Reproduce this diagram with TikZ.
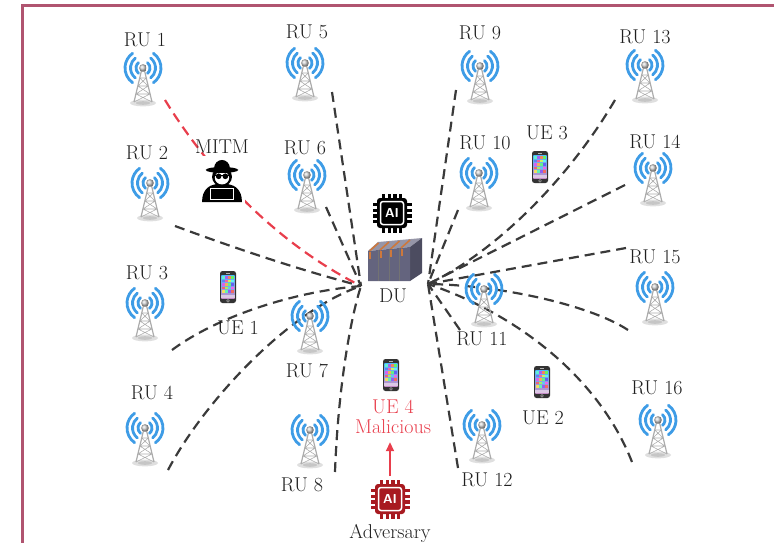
\documentclass[tikz,border=0pt]{standalone}
\usetikzlibrary{arrows.meta}
\definecolor{framec}{RGB}{176,84,112}
\definecolor{wifi}{RGB}{62,156,230}
\definecolor{linkgray}{RGB}{58,58,58}
\definecolor{alert}{RGB}{232,62,76}
\definecolor{advred}{RGB}{168,26,32}
\definecolor{rackfront}{RGB}{100,100,126}
\definecolor{racktop}{RGB}{150,150,168}
\definecolor{rackside}{RGB}{76,76,96}
\definecolor{rackorange}{RGB}{205,120,60}
\begin{document}
\begin{tikzpicture}[x=1pt,y=-1pt,
  lbl/.style={font=\fontsize{20}{24}\selectfont, text=black!88, inner sep=0pt},
  redlbl/.style={lbl, text=alert},
  link/.style={draw=linkgray, line width=2.2pt, dash pattern=on 10pt off 6pt},
  redlink/.style={link, draw=alert},
  % radio unit: lattice tower with wireless waves
  pics/rutower/.style={code={
    \fill[gray!25] (0,35) ellipse[x radius=13, y radius=3.4];
    \fill[gray!45] (0,35) ellipse[x radius=7, y radius=1.8];
    \draw[gray!65, line width=1.2pt] (-1.6,3) -- (-9,34) (1.6,3) -- (9,34);
    \draw[gray!65, line width=.6pt]
      (-3.3,10) -- (3.3,10) (-5.1,18) -- (5.1,18) (-7,26) -- (7,26)
      (-3.3,10) -- (5.1,18) (3.3,10) -- (-5.1,18)
      (-5.1,18) -- (7,26) (5.1,18) -- (-7,26)
      (-7,26) -- (9,34) (7,26) -- (-9,34);
    \shade[ball color=gray!35] (0,0) circle[radius=3.8];
    \foreach \r/\a in {7/50,12.5/52,18/55}{
      \draw[wifi, line width=2.8pt, line cap=round] (-\a:\r) arc[start angle=-\a, end angle=\a, radius=\r];
      \draw[wifi, line width=2.8pt, line cap=round] (180-\a:\r) arc[start angle=180-\a, end angle=180+\a, radius=\r];
    }
  }},
  % user equipment: smartphone
  pics/phone/.style={code={
    \fill[black!80, rounded corners=2.5pt] (-8,-16) rectangle (8,16);
    \shade[top color=cyan!60!blue!70, bottom color=violet!45] (-6.6,-12) rectangle (6.6,11.5);
    \foreach \y [count=\j] in {-9.4,-5.9,-2.4,1.1,4.6} {
      \foreach \x [count=\i] in {-4.5,-1.5,1.5,4.5} {
        \pgfmathsetmacro\h{mod(\i*0.29+\j*0.17,1)}
        \definecolor{appc}{hsb}{\h,0.6,0.95}
        \fill[appc] (\x-1.15,\y-1.15) rectangle (\x+1.15,\y+1.15);
      }
    }
    \fill[white, opacity=.5] (-6.6,7.6) rectangle (6.6,10.9);
    \draw[gray!70, line width=.5pt] (0,13.8) circle[radius=1.4];
    \draw[gray!60, line width=.6pt] (-2,-14) -- (2,-14);
  }},
  % man in the middle
  pics/hacker/.style={code={
    \fill[white] (-22,-24) rectangle (22,21);
    \fill[black] (-19,20) .. controls (-19,8) and (-12,4) .. (-6,3) -- (6,3)
       .. controls (12,4) and (19,8) .. (19,20) -- cycle;
    \fill[black] (0,-4) ellipse[x radius=9.5, y radius=9];
    \fill[white] (0,-3) ellipse[x radius=6.8, y radius=6.3];
    \fill[black] (-3.2,-4.5) circle[radius=2.7] (3.2,-4.5) circle[radius=2.7];
    \draw[black, line width=1pt] (-8,-5) -- (8,-5);
    \fill[black] (-8,-11) .. controls (-8,-23) and (8,-23) .. (8,-11) -- cycle;
    \fill[black] (0,-10.5) ellipse[x radius=15.5, y radius=2.8];
    \fill[black] (-12.5,6) rectangle (12.5,19);
    \draw[white, line width=1pt] (-11,7.5) rectangle (11,17.5);
  }},
  % AI processor chip
  pics/aichip/.style={code={
    \foreach \p in {-8.4,-2.8,2.8,8.4}{
      \fill[#1] (\p-1.7,-19.5) rectangle (\p+1.7,19.5);
      \fill[#1] (-19.5,\p-1.7) rectangle (19.5,\p+1.7);
    }
    \fill[#1, rounded corners=3pt] (-15,-15) rectangle (15,15);
    \draw[white, line width=1.5pt, rounded corners=2.5pt] (-11.5,-11.5) rectangle (11.5,11.5);
    \node[text=white, inner sep=0pt, font=\sffamily\bfseries\fontsize{13}{13}\selectfont] (-txt) {AI};
  }},
  % distributed unit: server rack
  pics/rack/.style={code={
    \fill[racktop] (-27,-8) -- (-17,-17) -- (27,-21) -- (15,-12) -- cycle;
    \fill[rackside] (15,-12) -- (27,-21) -- (27,14) -- (15,22) -- cycle;
    \fill[rackfront] (-27,-8) -- (15,-12) -- (15,22) -- (-27,22) -- cycle;
    \foreach \x in {-16.5,-6,4.5}{
      \draw[black!55, line width=.8pt] (\x,{-8-(\x+27)*4/42}) -- (\x,22);
    }
    \foreach \x in {-27,-16.5,-6,4.5}{
      \draw[rackorange, line width=1.6pt] (\x+1.5,{-8-(\x+27)*4/42}) -- ++(9,-8);
      \fill[rackorange] (\x+1,{-8-(\x+27)*4/42+0.8}) rectangle ++(2.4,7);
    }
  }}
]
\useasboundingbox (0,0) rectangle (774,543);

% frame
\draw[framec, line width=2.7pt] (774,5.3) -- (22.5,5.3) -- (22.5,543);

% link end points
\coordinate (duL) at (361,286);
\coordinate (duR) at (428,284);
\coordinate (e1) at (165,100);
\coordinate (e2) at (175,226);
\coordinate (e3) at (172,350);
\coordinate (e4) at (168,470);
\coordinate (e5) at (332,92);
\coordinate (e6) at (326,207);
\coordinate (e8) at (335,472);
\coordinate (e9) at (456,90);
\coordinate (e10) at (458,210);
\coordinate (e11) at (460,330);
\coordinate (e12) at (458,468);
\coordinate (e13) at (615,100);
\coordinate (e14) at (625,185);
\coordinate (e14b) at (626,248);
\coordinate (e15) at (628,330);
\coordinate (e16) at (632,462);

% fronthaul links
\draw[redlink] (e1) .. controls (205,165) and (270,240) .. (duL);
\draw[link] (e2) .. controls (240,250) and (300,270) .. (duL);
\draw[link] (e3) .. controls (215,318) and (290,292) .. (duL);
\draw[link] (e4) .. controls (205,400) and (290,310) .. (duL);
\draw[link] (e5) -- (duL);
\draw[link] (e6) -- (duL);
\draw[link] (e8) .. controls (338,390) and (350,320) .. (duL);
\draw[link] (e9) -- (duR);
\draw[link] (e10) -- (duR);
\draw[link] (e11) -- (duR);
\draw[link] (e12) -- (duR);
\draw[link] (e13) .. controls (565,185) and (490,255) .. (duR);
\draw[link] (e14) -- (duR);
\draw[link] (e14b) -- (duR);
\draw[link] (e15) .. controls (590,305) and (500,285) .. (duR);
\draw[link] (e16) .. controls (600,380) and (520,315) .. (duR);

% radio units
\pic at (143,68) {rutower};  \node[lbl] (ru1) at (145,40) {RU 1};
\pic at (150,183) {rutower}; \node[lbl] (ru2) at (147,153) {RU 2};
\pic at (145,303) {rutower}; \node[lbl] (ru3) at (147,273) {RU 3};
\pic at (145,428) {rutower}; \node[lbl] (ru4) at (152,393) {RU 4};
\pic at (305,63) {rutower};  \node[lbl] (ru5) at (307,32) {RU 5};
\pic at (307,175) {rutower}; \node[lbl] (ru6) at (305,148) {RU 6};
\pic at (310,316) {rutower}; \node[lbl] (ru7) at (307,371) {RU 7};
\pic at (310,430) {rutower}; \node[lbl] (ru8) at (302,485) {RU 8};
\pic at (480,66) {rutower};  \node[lbl] (ru9) at (480,33) {RU 9};
\pic at (479,173) {rutower}; \node[lbl] (ru10) at (485,143) {RU 10};
\pic at (484,289) {rutower}; \node[lbl] (ru11) at (482,339) {RU 11};
\pic at (482,425) {rutower}; \node[lbl] (ru12) at (487,480) {RU 12};
\pic at (645,65) {rutower};  \node[lbl] (ru13) at (645,37) {RU 13};
\pic at (653,168) {rutower}; \node[lbl] (ru14) at (655,142) {RU 14};
\pic at (655,287) {rutower}; \node[lbl] (ru15) at (655,257) {RU 15};
\pic at (658,420) {rutower}; \node[lbl] (ru16) at (657,388) {RU 16};

% user equipment
\pic at (228,287) {phone}; \node[lbl] (ue1) at (238,328) {UE 1};
\pic at (542,382) {phone}; \node[lbl] (ue2) at (543,418) {UE 2};
\pic at (540,167) {phone}; \node[lbl] (ue3) at (547,133) {UE 3};
\pic at (391,375) {phone};
\node[redlbl] (ue4) at (393,407) {UE 4};
\node[redlbl] (mal) at (393,427) {Malicious};

% attacker in the middle
\pic[scale=1.05] at (222,181) {hacker};
\node[lbl] (mitm) at (222,147) {MITM};

% distributed unit with its AI engine
\pic (duchip) at (392,213) {aichip=black};
\pic at (395,259) {rack};
\node[lbl] (du) at (393,296) {DU};

% adversarial AI driving the malicious UE
\pic (advchip) at (390,499) {aichip=advred};
\node[lbl] (adv) at (390,533) {Adversary};
\coordinate (advtop) at (390,476);
\draw[alert, line width=2pt, -{Triangle[length=9pt,width=8pt]}, shorten >=8pt] (advtop) -- (advtop |- mal.south);
\end{tikzpicture}
\end{document}
